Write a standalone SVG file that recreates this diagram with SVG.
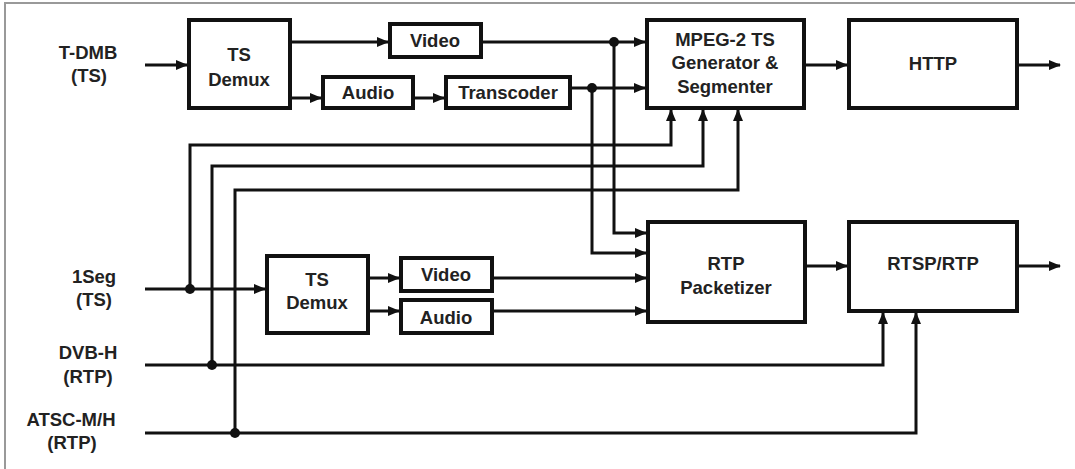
<svg xmlns="http://www.w3.org/2000/svg" width="1075" height="469" viewBox="0 0 1075 469">
<style>
.box{fill:#fff;stroke:#111;stroke-width:4}
.t{font-family:"Liberation Sans",Arial,sans-serif;font-weight:bold;font-size:18.5px;fill:#222;text-anchor:middle}
.c{fill:none;stroke:#111;stroke-width:3}
.a{marker-end:url(#ah)}
.dot{fill:#111}
</style>
<defs>
<marker id="ah" markerUnits="userSpaceOnUse" markerWidth="12" markerHeight="12" viewBox="0 0 12 12" refX="11" refY="6" orient="auto">
<path d="M0,1 L12,6 L0,11 Z" fill="#111"/>
</marker>
</defs>
<rect width="1075" height="469" fill="#fff"/>
<path d="M5,469 V3 H1075" fill="none" stroke="#999" stroke-width="2"/>

<g id="labels">
<text class="t" x="88" y="59">T-DMB</text>
<text class="t" x="89" y="82">(TS)</text>
<text class="t" x="94" y="283">1Seg</text>
<text class="t" x="94" y="306">(TS)</text>
<text class="t" x="88" y="359">DVB-H</text>
<text class="t" x="88" y="383">(RTP)</text>
<text class="t" x="71" y="426">ATSC-M/H</text>
<text class="t" x="72" y="449">(RTP)</text>
</g>

<g id="connectors">
<path class="c a" d="M145,65 H187"/>
<path class="c a" d="M291,42 H388"/>
<path class="c a" d="M291,98 H321"/>
<path class="c a" d="M415,98 H444"/>
<path class="c a" d="M483,42 H645"/>
<path class="c a" d="M572,88 H645"/>
<path class="c a" d="M614,42 V233 H646"/>
<path class="c a" d="M592,88 V253 H646"/>
<path class="c a" d="M806,65 H847"/>
<path class="c a" d="M1019,65 H1060"/>
<path class="c a" d="M145,289 H265"/>
<path class="c a" d="M190,289 V145 H671 V110"/>
<path class="c a" d="M145,365 H883 V313"/>
<path class="c a" d="M212,365 V166 H703 V110"/>
<path class="c a" d="M145,433 H916 V313"/>
<path class="c a" d="M235,433 V190 H738 V110"/>
<path class="c a" d="M369,278 H399"/>
<path class="c a" d="M369,311 H399"/>
<path class="c a" d="M494,278 H646"/>
<path class="c a" d="M494,311 H646"/>
<path class="c a" d="M807,266 H847"/>
<path class="c a" d="M1019,266 H1060"/>
<circle class="dot" cx="614" cy="42" r="5"/>
<circle class="dot" cx="592" cy="88" r="5"/>
<circle class="dot" cx="190" cy="289" r="5"/>
<circle class="dot" cx="212" cy="365" r="5"/>
<circle class="dot" cx="235" cy="433" r="5"/>
</g>

<g id="ts-demux-1"><rect class="box" x="189" y="20" width="101" height="88"/>
<text class="t" x="239" y="61">TS</text><text class="t" x="239" y="86">Demux</text></g>
<g id="video-1"><rect class="box" x="390" y="24" width="91" height="33"/>
<text class="t" x="435" y="47">Video</text></g>
<g id="audio-1"><rect class="box" x="323" y="77" width="90" height="31"/>
<text class="t" x="368" y="99">Audio</text></g>
<g id="transcoder"><rect class="box" x="446" y="77" width="124" height="31"/>
<text class="t" x="508" y="99">Transcoder</text></g>
<g id="mpeg2ts"><rect class="box" x="647" y="20" width="157" height="88"/>
<text class="t" x="725" y="46">MPEG-2 TS</text><text class="t" x="725" y="69">Generator &amp;</text><text class="t" x="725" y="93">Segmenter</text></g>
<g id="http"><rect class="box" x="849" y="20" width="168" height="88"/>
<text class="t" x="933" y="70">HTTP</text></g>
<g id="ts-demux-2"><rect class="box" x="267" y="256" width="101" height="77"/>
<text class="t" x="317" y="286">TS</text><text class="t" x="317" y="309">Demux</text></g>
<g id="video-2"><rect class="box" x="401" y="258" width="91" height="33"/>
<text class="t" x="446" y="281">Video</text></g>
<g id="audio-2"><rect class="box" x="401" y="300" width="91" height="33"/>
<text class="t" x="446" y="324">Audio</text></g>
<g id="rtp-packetizer"><rect class="box" x="648" y="222" width="157" height="100"/>
<text class="t" x="726" y="270">RTP</text><text class="t" x="726" y="294">Packetizer</text></g>
<g id="rtsp-rtp"><rect class="box" x="849" y="222" width="168" height="89"/>
<text class="t" x="933" y="270">RTSP/RTP</text></g>
</svg>
